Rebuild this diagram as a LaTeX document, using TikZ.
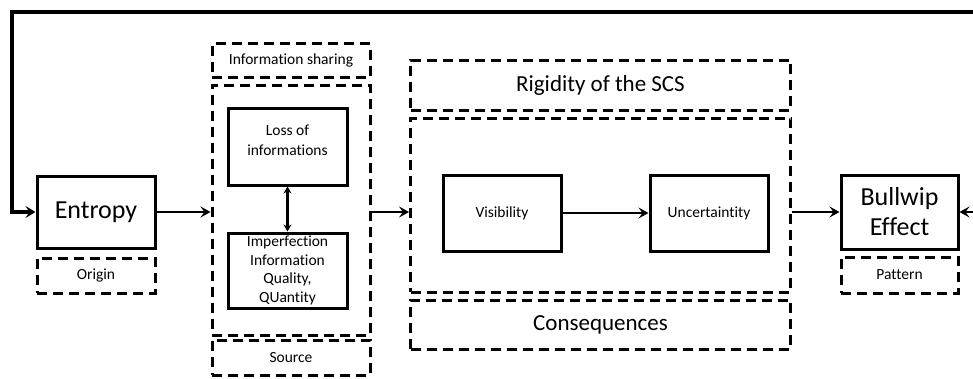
\documentclass[tikz,border=0pt]{standalone}
\usepackage{fontspec}
\setmainfont{Carlito}[Ligatures={NoCommon}]
\usetikzlibrary{arrows.meta}
\tikzset{
  solidbox/.style={draw, line width=3pt, inner sep=0pt, align=center, font=\fontsize{15.5}{18.5}\selectfont},
  dashbox/.style={draw, line width=3pt, dash pattern=on 10pt off 6pt, inner sep=0pt, align=center, font=\fontsize{15.5}{18.5}\selectfont},
  bigtext/.style={font=\fontsize{26}{30}\selectfont},
  midtext/.style={font=\fontsize{23}{27}\selectfont},
  conn/.style={line width=2.5pt, -{Stealth[length=10pt,width=11pt,inset=4pt]}},
  loopline/.style={line width=4pt, -{Stealth[length=10pt,width=12pt,inset=4pt]}},
}
\begin{document}
\begin{tikzpicture}[x=1pt,y=-1pt]
\useasboundingbox (0,0) rectangle (973,378);
% Entropy column
\node[solidbox, bigtext, minimum width=118pt, minimum height=72pt] (entropy) at (96,212) {Entropy};
\node[dashbox, minimum width=118pt, minimum height=35pt] (origin) at (96,275.5) {Origin};
% Information column
\node[dashbox, minimum width=158pt, minimum height=34pt] (infosh) at (291,60.5) {Information sharing};
\node[dashbox, minimum width=158pt, minimum height=250pt] (mid) at (291,210) {};
\node[solidbox, minimum width=119pt, minimum height=77pt, font=\fontsize{15.5}{20}\selectfont] (loss) at (287.5,146.5) {Loss of\\informations\\[-7pt]\mbox{}};
\node[solidbox, minimum width=119pt, minimum height=75pt] (imperf) at (287.5,270.5) {Imperfection\\Information\\Quality,\\QUantity};
\node[dashbox, minimum width=158pt, minimum height=35pt] (source) at (291,357.5) {Source};
% SCS column
\node[dashbox, midtext, minimum width=380pt, minimum height=50pt] (rigid) at (600.5,85) {Rigidity of the SCS};
\node[dashbox, minimum width=380pt, minimum height=174pt] (mid2) at (600.5,205) {};
\node[dashbox, midtext, minimum width=380pt, minimum height=49pt] (conseq) at (600.5,324.5) {Consequences};
\node[solidbox, minimum width=118pt, minimum height=76pt] (vis) at (502,213) {Visibility};
\node[solidbox, minimum width=118pt, minimum height=76pt] (unc) at (709,213) {Uncertaintity};
% Bullwip column
\node[solidbox, bigtext, minimum width=117pt, minimum height=74pt] (bull) at (899.5,212) {Bullwip\\Effect};
\node[dashbox, minimum width=117pt, minimum height=36pt] (pattern) at (899.5,275) {Pattern};
% connectors
\coordinate (topR) at (980,12);
\coordinate (topL) at (12,12);
\coordinate (rightEnd) at (980,212);
\draw[loopline] (topR) -- (topL) |- (entropy.west);
\draw[conn] (rightEnd) -- (bull.east);
\draw[conn] (entropy.east) -- (entropy.east -| mid.west);
\draw[line width=2.5pt, {Stealth[length=7pt,width=8pt]}-{Stealth[length=7pt,width=8pt]}] (loss.south) -- (imperf.north);
\draw[conn] (mid.east |- entropy.east) -- (entropy.east -| mid2.west);
\draw[conn] (vis.east) -- (unc.west);
\draw[conn] (mid2.east |- bull.west) -- (bull.west);
\end{tikzpicture}
\end{document}
